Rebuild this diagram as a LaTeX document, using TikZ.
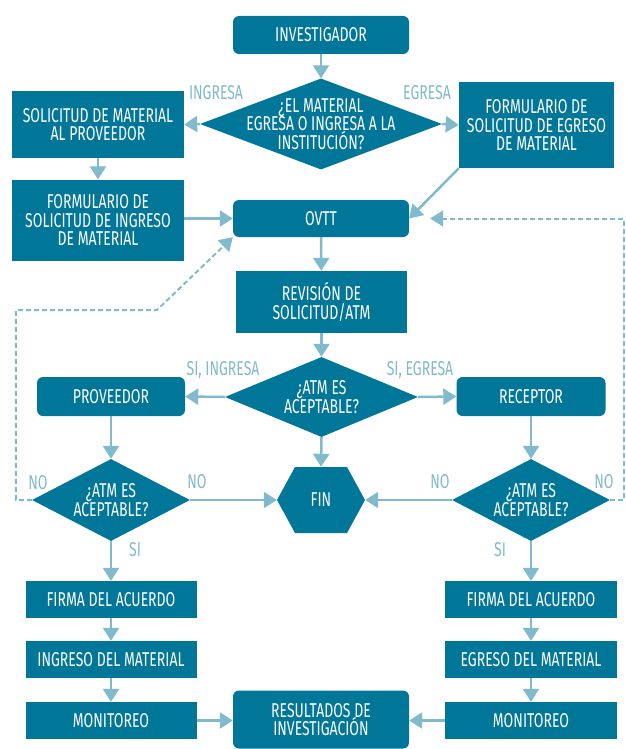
\documentclass[tikz,border=0pt]{standalone}
\usepackage{fontspec}
\setmainfont{Fira Sans}[FakeStretch=0.7]
\usetikzlibrary{arrows.meta,shapes.geometric,calc,positioning}
\definecolor{boxcol}{RGB}{0,119,153}
\definecolor{arrcol}{RGB}{128,186,204}
\tikzset{
	box/.style={fill=boxcol, text=white, align=center, inner sep=0pt},
	rbox/.style={box, rounded corners=6pt},
	dia/.style={diamond, fill=boxcol, inner sep=0pt},
	txt/.style={text=white, align=center, inner sep=0pt},
	arr/.style={draw=arrcol, line width=2.5pt, -{Triangle[width=16pt,length=13pt]}},
	dasharr/.style={draw=arrcol, line width=2pt, dash pattern=on 5pt off 3pt, -{Triangle[width=16pt,length=13pt]}},
	lbl/.style={text=arrcol, inner sep=0pt},
}

\begin{document}
\begin{tikzpicture}[x=1pt, y=-1pt, font=\fontsize{20}{18.5}\selectfont]
\useasboundingbox (0,0) rectangle (625,749);
% the shapes
\node[rbox, minimum width=176pt, minimum height=38pt] at (321,35) (inv) {INVESTIGADOR};
\node[dia, minimum width=242pt, minimum height=91pt,
	label={[txt]center:{¿EL MATERIAL\\EGRESA O INGRESA A LA\\INSTITUCIÓN?}}] at (321,124) (q1) {};
\node[box, minimum width=172pt, minimum height=67pt] at (98,124.5) (sol) {SOLICITUD DE MATERIAL\\AL PROVEEDOR};
\node[box, minimum width=155pt, minimum height=86pt] at (536.5,125) (fegr) {FORMULARIO DE\\SOLICITUD DE EGRESO\\DE MATERIAL};
\node[box, minimum width=172pt, minimum height=81pt] at (98,220) (fing) {FORMULARIO DE\\SOLICITUD DE INGRESO\\DE MATERIAL};
\node[rbox, minimum width=176pt, minimum height=37pt] at (321,218.5) (ovtt) {OVTT};
\node[box, minimum width=171pt, minimum height=62pt] at (321.5,302) (rev) {REVISIÓN DE\\SOLICITUD/ATM};
\node[dia, minimum width=193pt, minimum height=80pt,
	label={[txt]center:{¿ATM ES\\ACEPTABLE?}}] at (321.5,397) (q2) {};
\node[rbox, minimum width=148pt, minimum height=39pt] at (111,396.5) (prov) {PROVEEDOR};
\node[rbox, minimum width=149pt, minimum height=39pt] at (531,396.5) (rec) {RECEPTOR};
\node[dia, minimum width=158pt, minimum height=82pt,
	label={[txt]center:{¿ATM ES\\ACEPTABLE?}}] at (111,500) (q3) {};
\node[dia, minimum width=158pt, minimum height=82pt,
	label={[txt]center:{¿ATM ES\\ACEPTABLE?}}] at (531,500) (q4) {};
\fill[boxcol] (277,500) -- (295,467) -- (347,467) -- (365,500) -- (347,533) -- (295,533) -- cycle;
\node[txt, minimum width=88pt, minimum height=66pt] at (321,500) (fin) {FIN};
\node[box, minimum width=171pt, minimum height=37pt] at (111,599.5) (firl) {FIRMA DEL ACUERDO};
\node[box, minimum width=171pt, minimum height=37pt] at (111,659.5) (ingm) {INGRESO DEL MATERIAL};
\node[box, minimum width=171pt, minimum height=37pt] at (111,720.5) (monl) {MONITOREO};
\node[box, minimum width=172pt, minimum height=37pt] at (531,599.5) (firr) {FIRMA DEL ACUERDO};
\node[box, minimum width=172pt, minimum height=37pt] at (531,659.5) (egrm) {EGRESO DEL MATERIAL};
\node[box, minimum width=172pt, minimum height=37pt] at (531,720.5) (monr) {MONITOREO};
\node[rbox, minimum width=176pt, minimum height=58pt] at (321,719.5) (res) {RESULTADOS DE\\INVESTIGACIÓN};

% the arrows
\draw[arr] (inv) -- (q1);
\draw[arr] (q1.west) -- (sol.east);
\draw[arr] (q1.east) -- (fegr.west);
\draw[arr] (sol) -- (fing);
\draw[arr] (fing.east |- ovtt) -- (ovtt.west);
\draw[arr] (fegr.south west) -- (ovtt.east);
\draw[arr] (ovtt) -- (rev);
\draw[arr] (rev) -- (q2);
\draw[arr] (q2.west) -- (prov.east);
\draw[arr] (q2.east) -- (rec.west);
\draw[arr] (q2.south) -- (fin.north);
\draw[arr] (prov) -- (q3.north);
\draw[arr] (rec) -- (q4.north);
\draw[arr] (q3.east) -- (fin.west);
\draw[arr] (q4.west) -- (fin.east);
\draw[arr] (q3.south) -- (firl);
\draw[arr] (q4.south) -- (firr);
\draw[arr] (firl) -- (ingm);
\draw[arr] (ingm) -- (monl);
\draw[arr] (firr) -- (egrm);
\draw[arr] (egrm) -- (monr);
\draw[arr] (monl) -- (res.west |- monl);
\draw[arr] (monr) -- (res.east |- monr);
\draw[dasharr] (q3.west) -- ++(-16,0) |- (157,310) -- (ovtt.south west);
\draw[dasharr, shorten >=21pt] (q4.east) -- (624,500) |- (ovtt.east);

%the names
\node[lbl] at (216,93) {INGRESA};
\node[lbl] at (427,93) {EGRESA};
\node[lbl] at (223,370) {SI, INGRESA};
\node[lbl] at (420,370) {SI, EGRESA};
\node[lbl] at (38,483) {NO};
\node[lbl] at (197,482) {NO};
\node[lbl] at (440,482) {NO};
\node[lbl] at (604,482) {NO};
\node[lbl] at (135,550) {SI};
\node[lbl] at (500,550) {SI};
\end{tikzpicture}
\end{document}
